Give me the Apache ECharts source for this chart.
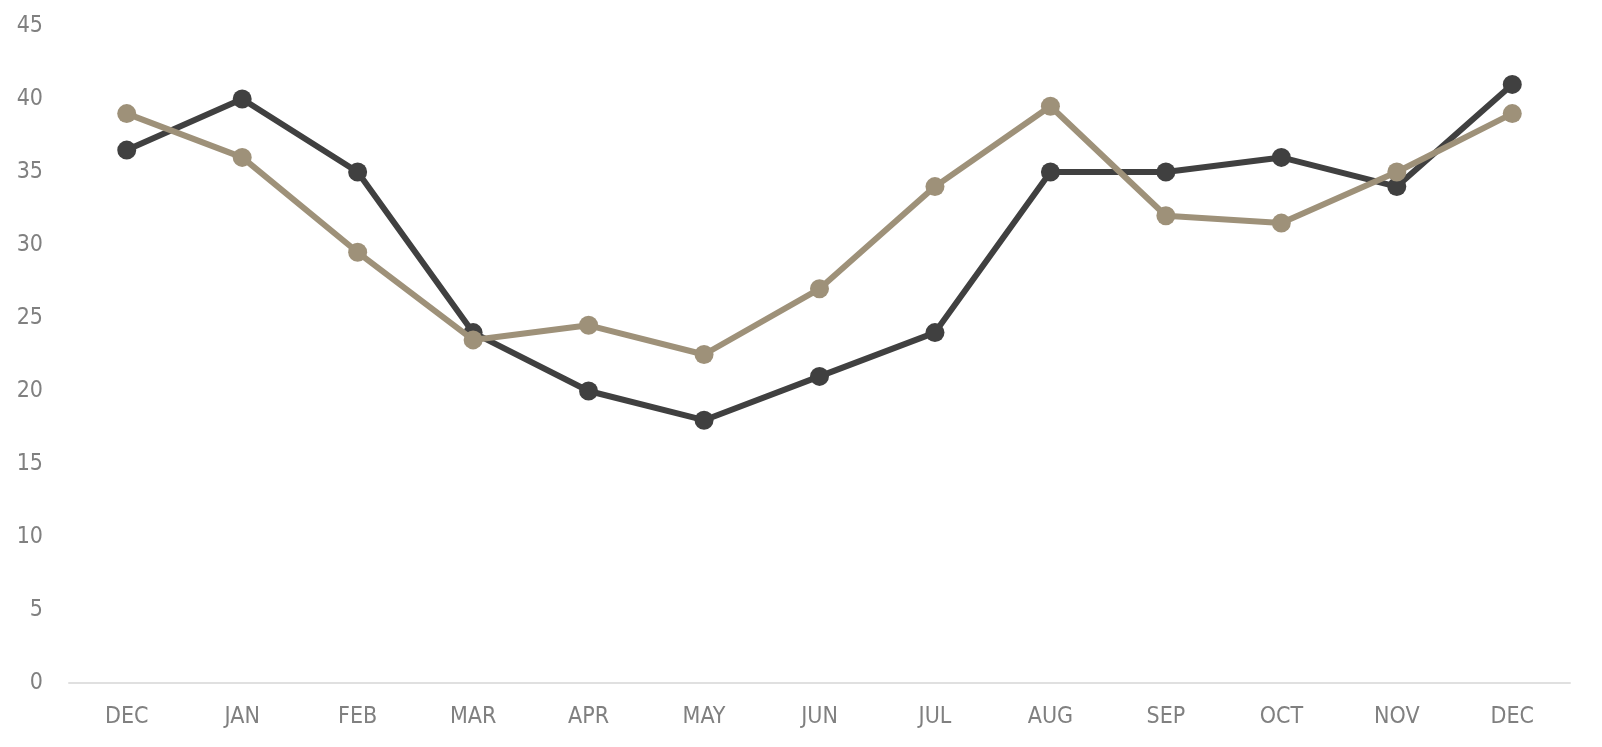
<!DOCTYPE html>
<html>
<head>
<meta charset="utf-8">
<script src="https://cdn.jsdelivr.net/npm/echarts@6/dist/echarts.min.js"></script>
<style>
html,body{margin:0;padding:0;background:#fff;}
#chart{width:1602px;height:747px;}
</style>
</head>
<body>
<div id="chart"></div>
<script>
const categories = ['DEC','JAN','FEB','MAR','APR','MAY','JUN','JUL','AUG','SEP','OCT','NOV','DEC'];
const darkSeries = [36.5, 40, 35, 24, 20, 18, 21, 24, 35, 35, 36, 34, 41];
const tanSeries = [39, 36, 29.5, 23.5, 24.5, 22.5, 27, 34, 39.5, 32, 31.5, 35, 39];
const yTicks = {min: 0, max: 45, interval: 5};

const FONT = "'DejaVu Sans Condensed', 'Liberation Sans Narrow', Roboto, sans-serif";
const chart = echarts.init(document.getElementById('chart'), null, {renderer: 'canvas'});
chart.setOption({
  animation: false,
  backgroundColor: '#ffffff',
  grid: {left: 69, right: 32, top: 26, bottom: 64, containLabel: false},
  xAxis: {
    type: 'category',
    data: categories,
    boundaryGap: true,
    axisLine: {show: true, lineStyle: {color: '#e0e0e0', width: 2}},
    axisTick: {show: false},
    axisLabel: {color: '#808080', fontSize: 23, fontFamily: FONT, margin: 23}
  },
  yAxis: {
    type: 'value',
    min: yTicks.min, max: yTicks.max, interval: yTicks.interval,
    axisLine: {show: false},
    axisTick: {show: false},
    splitLine: {show: false},
    axisLabel: {color: '#808080', fontSize: 23, fontFamily: FONT, margin: 26}
  },
  series: [
    {
      type: 'line', data: darkSeries,
      symbol: 'circle', symbolSize: 19,
      lineStyle: {color: '#404040', width: 6},
      itemStyle: {color: '#404040'},
      z: 2
    },
    {
      type: 'line', data: tanSeries,
      symbol: 'circle', symbolSize: 19,
      lineStyle: {color: '#9e9179', width: 6},
      itemStyle: {color: '#9e9179'},
      z: 3
    }
  ]
});
</script>
</body>
</html>
